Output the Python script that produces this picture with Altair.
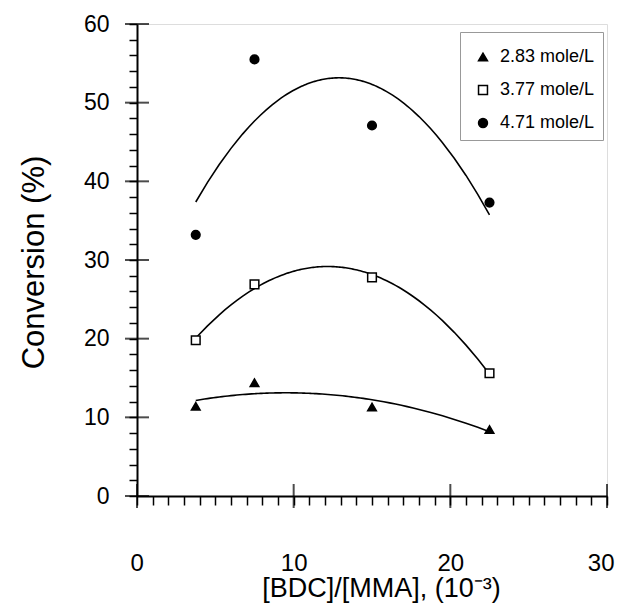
import altair as alt
import pandas as pd

# ---- data ----
x_vals = [3.75, 7.5, 15.0, 22.5]
conv_283 = [11.4, 14.4, 11.3, 8.45]
conv_377 = [19.8, 26.9, 27.8, 15.6]
conv_471 = [33.2, 55.5, 47.1, 37.3]
series_names = ["2.83 mole/L", "3.77 mole/L", "4.71 mole/L"]

x_minor = list(range(0, 31, 1))
y_minor = list(range(0, 61, 2))
x_major = [0, 10, 20, 30]
y_major = [0, 10, 20, 30, 40, 50, 60]

rows = []
for name, vals in zip(series_names, [conv_283, conv_377, conv_471]):
    for x, y in zip(x_vals, vals):
        rows.append({"ratio": x, "conv": y, "conc": name})
df = pd.DataFrame(rows)

xmaj_df = pd.DataFrame({"ratio": x_major, "conv": [0] * len(x_major)})
ymaj_df = pd.DataFrame({"ratio": [0] * len(y_major), "conv": y_major})

FONT = "Liberation Sans"

x_scale = alt.Scale(domain=[0, 30], nice=False, zero=False)
y_scale = alt.Scale(domain=[0, 60], nice=False, zero=False)

x_axis = alt.Axis(
    values=x_minor, tickSize=9, tickWidth=1.5, tickColor="black",
    domainColor="black", domainWidth=2, grid=False,
    labelExpr="datum.value % 10 == 0 ? datum.label : ''",
    labelFontSize=24, labelFont=FONT, labelColor="black", labelPadding=46,
    labelFlush=True, labelFlushOffset=7, labelOverlap=False, labelBound=False,
    title="[BDC]/[MMA], (10⁻³)", titleFontSize=27, titleFont=FONT,
    titleFontWeight="normal", titleColor="black",
    titleX=244, titleY=100, titleBaseline="alphabetic", titleAnchor="middle",
)
y_axis = alt.Axis(
    values=y_minor, tickSize=8, tickWidth=1.5, tickColor="black",
    domainColor="black", domainWidth=2, grid=False,
    labelExpr="datum.value % 10 == 0 ? datum.label : ''",
    labelFontSize=23, labelFont=FONT, labelColor="black", labelPadding=20,
    labelFlush=False, labelOverlap=False, labelBound=False,
    title="Conversion (%)", titleFontSize=31, titleFont=FONT,
    titleFontWeight="normal", titleColor="black",
    titleX=-94, titleY=238, titleBaseline="alphabetic", titleAnchor="middle",
)

shape_scale = alt.Scale(domain=series_names, range=["triangle-up", "square", "circle"])
fill_scale = alt.Scale(domain=series_names, range=["black", "white", "black"])
stroke_scale = alt.Scale(domain=series_names, range=["black", "black", "black"])

legend = alt.Legend(
    title=" ", titleFontSize=4, titlePadding=4,
    orient="none", legendX=323, legendY=8,
    padding=8, strokeColor="#999999", fillColor="white",
    labelFontSize=18, labelFont=FONT, labelColor="black",
    symbolSize=80, symbolStrokeWidth=1.5, symbolOffset=6,
    rowPadding=15, labelOffset=8,
)

X = alt.X("ratio:Q", scale=x_scale, axis=x_axis)
Y = alt.Y("conv:Q", scale=y_scale, axis=y_axis)

points = alt.Chart(df).mark_point(filled=False, size=75, strokeWidth=1.5, opacity=1).encode(
    x=X,
    y=Y,
    shape=alt.Shape("conc:N", scale=shape_scale, legend=legend),
    fill=alt.Fill("conc:N", scale=fill_scale, legend=legend),
    stroke=alt.Stroke("conc:N", scale=stroke_scale, legend=legend),
)

curves = alt.Chart(df).transform_regression(
    "ratio", "conv", method="poly", order=2, groupby=["conc"]
).mark_line(color="black", strokeWidth=1.6).encode(
    x=X,
    y=Y,
    detail="conc:N",
)

xticks = alt.Chart(xmaj_df).mark_tick(orient="vertical", size=24, thickness=2, color="black").encode(
    x=X,
    y=Y,
)
yticks = alt.Chart(ymaj_df).mark_tick(orient="horizontal", size=24, thickness=2, color="black").encode(
    x=X,
    y=Y,
)

chart = alt.layer(curves, points, xticks, yticks).properties(
    width=470, height=472,
    autosize=alt.AutoSizeParams(type="none"),
    padding={"left": 129, "top": 16, "right": 8, "bottom": 108},
).configure_view(stroke="black", strokeWidth=2).configure(background="white")

chart.save("out.html", embed_options={"renderer": "svg", "actions": False})
